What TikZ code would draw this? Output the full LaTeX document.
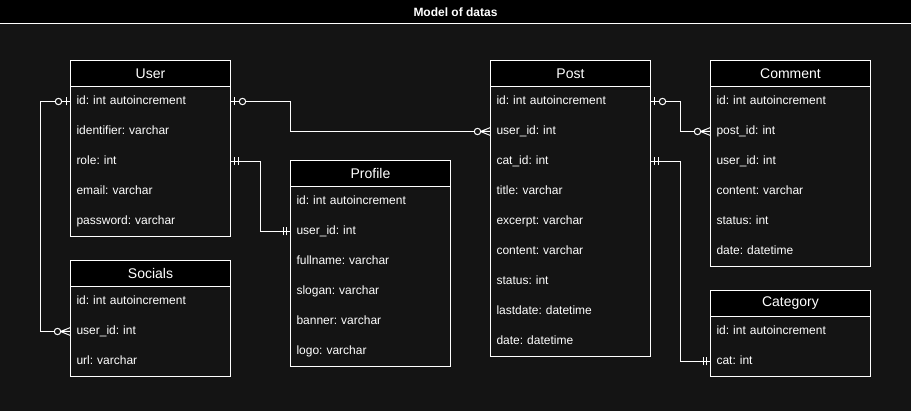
\documentclass[tikz,border=0pt]{standalone}
\usepackage{fontspec}
\setmainfont{Liberation Sans}
\usetikzlibrary{positioning}
\definecolor{bg}{HTML}{141414}
\frenchspacing
\tikzset{
  hdr/.style={draw=white, fill=black, text=white, minimum width=160pt, minimum height=26pt, inner sep=0pt, outer sep=0pt, font=\fontsize{14}{16}\selectfont, anchor=north west},
  fld/.style={minimum width=160pt, minimum height=30pt, inner xsep=6pt, inner ysep=0pt, outer sep=0pt, text width=148pt, align=left, text=white, font=\fontsize{12}{14}\selectfont\frenchspacing},
  conn/.style={draw=white},
  pics/zeroone/.style={code={
    \draw[white] (4,-4) -- (4,4);
    \draw[white, fill=bg] (12,0) circle (3.2);
  }},
  pics/zeromany/.style={code={
    \draw[white] (0,-4) -- (10,0) -- (0,4) (0,0) -- (10,0);
    \draw[white, fill=bg] (13,0) circle (3.2);
  }},
  pics/mandone/.style={code={
    \draw[white] (4,-4) -- (4,4) (7.5,-4) -- (7.5,4);
  }},
}
\newcommand\erow[3]{\node[fld, below=0pt of #1] (#2) {\rule[-3.2pt]{0pt}{12.4pt}#3};}
\begin{document}
\begin{tikzpicture}[x=1pt, y=-1pt, line width=1pt]
\useasboundingbox (0,0) rectangle (911,411);
\fill[bg] (0,0) rectangle (911,411);
\fill[black] (0,0) rectangle (911,23);
\draw[white] (0,23.5) -- (911,23.5);
\node[font=\bfseries\fontsize{12}{14}\selectfont, text=white] (title) at (455.5,12) {Model of datas};

% User
\node[hdr] (user) at (70.5,60.5) {User};
\erow{user}{user-id}{id: int autoincrement}
\erow{user-id}{user-ident}{identifier: varchar}
\erow{user-ident}{user-role}{role: int}
\erow{user-role}{user-email}{email: varchar}
\erow{user-email}{user-pass}{password: varchar}
\draw[white] (user.south west) rectangle (user-pass.south east);

% Socials
\node[hdr] (soc) at (70.5,260.5) {Socials};
\erow{soc}{soc-id}{id: int autoincrement}
\erow{soc-id}{soc-user}{user\_id: int}
\erow{soc-user}{soc-url}{url: varchar}
\draw[white] (soc.south west) rectangle (soc-url.south east);

% Profile
\node[hdr] (prof) at (290.5,160.5) {Profile};
\erow{prof}{prof-id}{id: int autoincrement}
\erow{prof-id}{prof-user}{user\_id: int}
\erow{prof-user}{prof-full}{fullname: varchar}
\erow{prof-full}{prof-slogan}{slogan: varchar}
\erow{prof-slogan}{prof-banner}{banner: varchar}
\erow{prof-banner}{prof-logo}{logo: varchar}
\draw[white] (prof.south west) rectangle (prof-logo.south east);

% Post
\node[hdr] (post) at (490.5,60.5) {Post};
\erow{post}{post-id}{id: int autoincrement}
\erow{post-id}{post-user}{user\_id: int}
\erow{post-user}{post-cat}{cat\_id: int}
\erow{post-cat}{post-title}{title: varchar}
\erow{post-title}{post-exc}{excerpt: varchar}
\erow{post-exc}{post-cont}{content: varchar}
\erow{post-cont}{post-stat}{status: int}
\erow{post-stat}{post-last}{lastdate: datetime}
\erow{post-last}{post-date}{date: datetime}
\draw[white] (post.south west) rectangle (post-date.south east);

% Comment
\node[hdr] (com) at (710.5,60.5) {Comment};
\erow{com}{com-id}{id: int autoincrement}
\erow{com-id}{com-post}{post\_id: int}
\erow{com-post}{com-user}{user\_id: int}
\erow{com-user}{com-cont}{content: varchar}
\erow{com-cont}{com-stat}{status: int}
\erow{com-stat}{com-date}{date: datetime}
\draw[white] (com.south west) rectangle (com-date.south east);

% Category
\node[hdr] (cat) at (710.5,290.5) {Category};
\erow{cat}{cat-id}{id: int autoincrement}
\erow{cat-id}{cat-cat}{cat: int}
\draw[white] (cat.south west) rectangle (cat-cat.south east);

% Connectors
\draw[conn] (user-id.east) -- ++(60,0) |- (post-user.west);
\draw[conn] (user-role.east) -- ++(30,0) |- (prof-user.west);
\draw[conn] (user-id.west) -- ++(-30,0) |- (soc-user.west);
\draw[conn] (post-id.east) -- ++(30,0) |- (com-post.west);
\draw[conn] (post-cat.east) -- ++(30,0) |- (cat-cat.west);

% Markers
\path (user-id.east) pic {zeroone};
\path (post-user.west) pic[rotate=180] {zeromany};
\path (user-role.east) pic {mandone};
\path (prof-user.west) pic[rotate=180] {mandone};
\path (user-id.west) pic[rotate=180] {zeroone};
\path (soc-user.west) pic[rotate=180] {zeromany};
\path (post-id.east) pic {zeroone};
\path (com-post.west) pic[rotate=180] {zeromany};
\path (post-cat.east) pic {mandone};
\path (cat-cat.west) pic[rotate=180] {mandone};
\end{tikzpicture}
\end{document}
